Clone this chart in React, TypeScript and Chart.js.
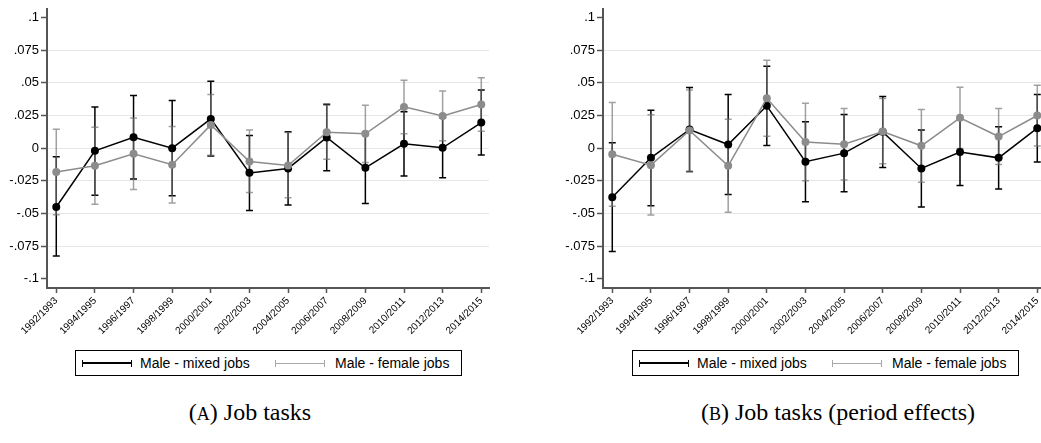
import React, { useEffect, useRef } from 'react';
import { Chart, registerables } from 'chart.js';

Chart.register(...registerables);

// ---------- data ----------
const periods = [
  '1992/1993', '1994/1995', '1996/1997', '1998/1999', '2000/2001', '2002/2003',
  '2004/2005', '2006/2007', '2008/2009', '2010/2011', '2012/2013', '2014/2015',
];
const yTickValues = [-0.1, -0.075, -0.05, -0.025, 0, 0.025, 0.05, 0.075, 0.1];
const yTickLabels = ['-.1', '-.075', '-.05', '-.025', '0', '.025', '.05', '.075', '.1'];
const seriesNames = ['Male - mixed jobs', 'Male - female jobs'];
const captionA = 'Job tasks';
const captionB = 'Job tasks (period effects)';

// Panel A
const mixedA = [-0.045, -0.002, 0.0084, 0.0, 0.0224, -0.0189, -0.0155, 0.0082, -0.015, 0.0033, 0.0003, 0.0196];
const mixedALo = [-0.0826, -0.036, -0.0235, -0.0364, -0.006, -0.0476, -0.0435, -0.0173, -0.0423, -0.0212, -0.0227, -0.0052];
const mixedAHi = [-0.0066, 0.0316, 0.0403, 0.0364, 0.0512, 0.0097, 0.0125, 0.0337, 0.0123, 0.0278, 0.0233, 0.0446];
const femaleA = [-0.0183, -0.0135, -0.0043, -0.0127, 0.0178, -0.0102, -0.0133, 0.0122, 0.011, 0.0316, 0.0247, 0.0334];
const femaleALo = [-0.051, -0.043, -0.0316, -0.042, -0.0054, -0.034, -0.038, -0.0084, -0.0109, 0.011, 0.0056, 0.0129];
const femaleAHi = [0.0145, 0.016, 0.023, 0.0166, 0.041, 0.014, 0.012, 0.0329, 0.0329, 0.052, 0.0438, 0.0538];

// Panel B
const mixedB = [-0.0375, -0.0074, 0.0143, 0.0028, 0.0324, -0.0104, -0.0038, 0.0125, -0.0155, -0.003, -0.0074, 0.0153];
const mixedBLo = [-0.079, -0.044, -0.0178, -0.0354, 0.002, -0.041, -0.0334, -0.0148, -0.0451, -0.0285, -0.0313, -0.0105];
const mixedBHi = [0.0041, 0.029, 0.0464, 0.041, 0.0627, 0.0203, 0.0257, 0.0395, 0.014, 0.0225, 0.0164, 0.041];
const femaleB = [-0.0046, -0.013, 0.0135, -0.0135, 0.0382, 0.0048, 0.003, 0.0127, 0.0018, 0.0232, 0.0089, 0.025];
const femaleBLo = [-0.0445, -0.0512, -0.0181, -0.049, 0.0091, -0.0249, -0.0244, -0.012, -0.0261, -0.0002, -0.0124, 0.0016];
const femaleBHi = [0.035, 0.0255, 0.0446, 0.0222, 0.0673, 0.0344, 0.0303, 0.038, 0.0296, 0.0466, 0.0303, 0.0482];

// ---------- styles ----------
const BLACK = '#000000';
const GRAY = '#8c8c8c';
const GRAY_BAR = 'rgba(115,115,115,0.68)';
const AXIS = '#555555';
const GRID = '#e6e6e6';
const SANS = '"Liberation Sans", Arial, sans-serif';
const SERIF = '"Liberation Serif", "Times New Roman", serif';

type Bars = { lo: number[]; hi: number[]; color: string; width: number };

function errorBarPlugin(bars: Bars[]) {
  return {
    id: 'errorBars',
    beforeDatasetsDraw(chart: any) {
      const { ctx, scales } = chart;
      const xs = scales.x;
      const ys = scales.y;
      ctx.save();
      bars.forEach((b) => {
        ctx.strokeStyle = b.color;
        ctx.lineWidth = b.width;
        ctx.beginPath();
        b.lo.forEach((lo, i) => {
          const px = xs.getPixelForValue(i);
          const p1 = ys.getPixelForValue(lo);
          const p2 = ys.getPixelForValue(b.hi[i]);
          ctx.moveTo(px, p1);
          ctx.lineTo(px, p2);
          ctx.moveTo(px - 3.5, p1);
          ctx.lineTo(px + 3.5, p1);
          ctx.moveTo(px - 3.5, p2);
          ctx.lineTo(px + 3.5, p2);
        });
        ctx.stroke();
      });
      ctx.restore();
    },
  };
}

type PanelProps = {
  left: number;
  mixed: number[];
  mixedLo: number[];
  mixedHi: number[];
  female: number[];
  femaleLo: number[];
  femaleHi: number[];
};

const CW = 520;
const CH = 340;

function Panel(p: PanelProps) {
  const ref = useRef<HTMLCanvasElement | null>(null);
  useEffect(() => {
    if (!ref.current) return;
    const toPts = (arr: number[]) => arr.map((v, i) => ({ x: i, y: v }));
    const chart = new Chart(ref.current, {
      type: 'line',
      data: {
        datasets: [
          {
            label: seriesNames[0],
            data: toPts(p.mixed),
            borderColor: BLACK,
            backgroundColor: BLACK,
            borderWidth: 1.5,
            pointRadius: 4,
            pointBorderWidth: 0,
            pointBackgroundColor: BLACK,
            order: 1,
          },
          {
            label: seriesNames[1],
            data: toPts(p.female),
            borderColor: GRAY,
            backgroundColor: GRAY,
            borderWidth: 1.5,
            pointRadius: 4,
            pointBorderWidth: 0,
            pointBackgroundColor: GRAY,
            order: 0,
          },
        ],
      },
      options: {
        animation: false,
        responsive: false,
        maintainAspectRatio: false,
        layout: { padding: { top: 9, right: 31, left: 0, bottom: 0 } },
        plugins: { legend: { display: false }, tooltip: { enabled: false } },
        scales: {
          x: {
            type: 'linear',
            min: -0.24,
            max: 11.2,
            afterBuildTicks: (axis: any) => {
              axis.ticks = periods.map((_, i) => ({ value: i }));
            },
            afterFit: (s: any) => {
              s.height = CH - 288;
              s.paddingLeft = 0;
              s.paddingRight = 0;
            },
            grid: { drawOnChartArea: false, drawTicks: true, tickLength: 5, tickColor: AXIS, tickWidth: 1.5 },
            border: { display: true, color: AXIS, width: 2 },
            ticks: {
              autoSkip: false,
              minRotation: 45,
              maxRotation: 45,
              padding: 2,
              color: '#000',
              font: { family: SANS, size: 10 },
              callback: (v: any) => periods[Math.round(Number(v))] ?? '',
            },
          },
          y: {
            type: 'linear',
            min: -0.107,
            max: 0.1065,
            afterBuildTicks: (axis: any) => {
              axis.ticks = yTickValues.map((v) => ({ value: v }));
            },
            afterFit: (s: any) => {
              s.width = 47;
              s.paddingTop = 0;
              s.paddingBottom = 0;
            },
            grid: {
              color: (ctx: any) =>
                ctx.tick && Math.abs(ctx.tick.value) > 0.099 ? 'rgba(0,0,0,0)' : GRID,
              lineWidth: 1,
              drawTicks: true,
              tickLength: 6,
              tickColor: AXIS,
              tickWidth: 1.5,
            },
            border: { display: true, color: AXIS, width: 2 },
            ticks: {
              padding: 2,
              color: '#000',
              font: { family: SANS, size: 13 },
              callback: (_v: any, i: number) => yTickLabels[i],
            },
          },
        },
      },
      plugins: [
        errorBarPlugin([
          { lo: p.mixedLo, hi: p.mixedHi, color: BLACK, width: 1.5 },
          { lo: p.femaleLo, hi: p.femaleHi, color: GRAY_BAR, width: 1.5 },
        ]),
      ],
    } as any);
    return () => chart.destroy();
  }, []);
  return (
    <canvas
      ref={ref}
      width={CW}
      height={CH}
      style={{ position: 'absolute', left: p.left, top: 0, width: CW, height: CH }}
    />
  );
}

function LegendSymbol({ left, color, thick }: { left: number; color: string; thick: number }) {
  return (
    <div style={{ position: 'absolute', left, top: 8.5, width: 50, height: 7 }}>
      <div style={{ position: 'absolute', left: 0, top: 3.5 - thick / 2, width: 50, height: thick, background: color }} />
      <div style={{ position: 'absolute', left: 0, top: 0, width: 1, height: 7, background: color }} />
      <div style={{ position: 'absolute', right: 0, top: 0, width: 1, height: 7, background: color }} />
    </div>
  );
}

function LegendBox({ left }: { left: number }) {
  const txt: React.CSSProperties = {
    position: 'absolute',
    top: 0,
    lineHeight: '24px',
    fontFamily: SANS,
    fontSize: 14,
    color: '#000',
    whiteSpace: 'nowrap',
  };
  return (
    <div
      style={{
        position: 'absolute',
        left,
        top: 350,
        width: 387,
        height: 26,
        border: '1px solid #000',
        boxSizing: 'border-box',
        background: '#fff',
      }}
    >
      <LegendSymbol left={6} color={BLACK} thick={1.5} />
      <span style={{ ...txt, left: 64 }}>{seriesNames[0]}</span>
      <LegendSymbol left={199} color="#a8a8a8" thick={1} />
      <span style={{ ...txt, left: 259 }}>{seriesNames[1]}</span>
    </div>
  );
}

function Caption({ center, letter, text }: { center: number; letter: string; text: string }) {
  return (
    <div
      style={{
        position: 'absolute',
        left: center - 200,
        width: 400,
        top: 397,
        textAlign: 'center',
        fontFamily: SERIF,
        fontSize: 24,
        lineHeight: '30px',
        color: '#000',
        whiteSpace: 'nowrap',
      }}
    >
      (<span style={{ fontSize: 18 }}>{letter}</span>) {text}
    </div>
  );
}

export default function App() {
  return (
    <div
      style={{
        position: 'fixed',
        left: 0,
        top: 0,
        width: 1041,
        height: 443,
        overflow: 'hidden',
        background: '#fff',
      }}
    >
      <Panel
        left={0}
        mixed={mixedA}
        mixedLo={mixedALo}
        mixedHi={mixedAHi}
        female={femaleA}
        femaleLo={femaleALo}
        femaleHi={femaleAHi}
      />
      <Panel
        left={556}
        mixed={mixedB}
        mixedLo={mixedBLo}
        mixedHi={mixedBHi}
        female={femaleB}
        femaleLo={femaleBLo}
        femaleHi={femaleBHi}
      />
      <LegendBox left={75} />
      <LegendBox left={632} />
      <Caption center={250} letter="A" text={captionA} />
      <Caption center={838} letter="B" text={captionB} />
    </div>
  );
}
